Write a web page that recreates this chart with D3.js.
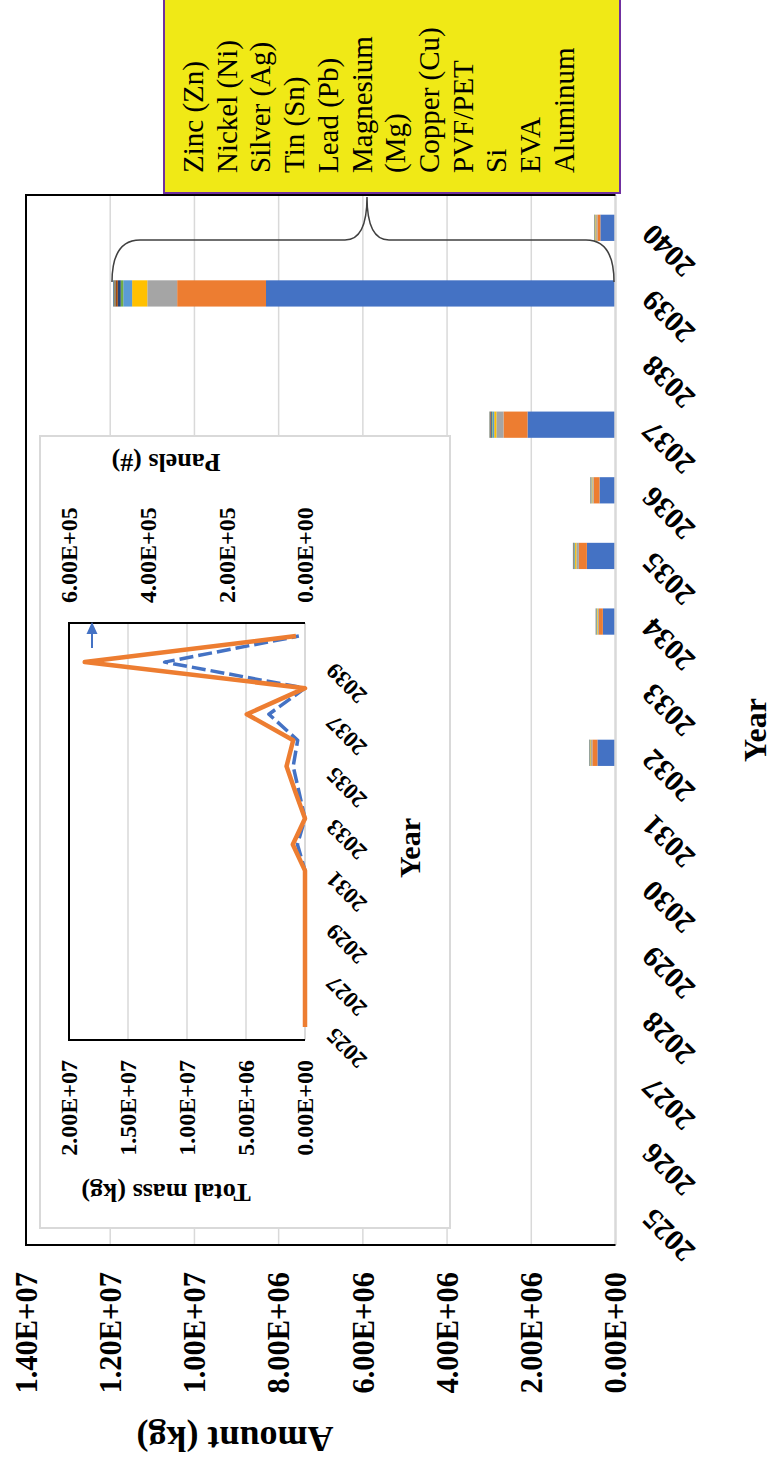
<!DOCTYPE html>
<html><head><meta charset="utf-8">
<script src="https://cdn.jsdelivr.net/npm/d3@7"></script>
<style>html,body{margin:0;padding:0;background:#fff;} svg{display:block;}</style>
</head><body>
<svg id="chart" width="774" height="1465"></svg>
<script>
// ---------- DATA ----------
const years = ["2025","2026","2027","2028","2029","2030","2031","2032","2033","2034","2035","2036","2037","2038","2039","2040"];
const seriesNames = ["Aluminum","EVA","Si","PVF/PET","Copper (Cu)","Magnesium (Mg)","Lead (Pb)","Tin (Sn)","Silver (Ag)","Nickel (Ni)","Zinc (Zn)"];
const seriesColors = ["#4472C4","#ED7D31","#A5A5A5","#FFC000","#5B9BD5","#70AD47","#264478","#9E480E","#636363","#997300","#255E91"];
// amounts in kg, per year 2025..2040
const aluminum  = [0,0,0,0,0,0,0,430000,0,300000,680000,380000,2090000,0,8300000,360000];
const eva       = [0,0,0,0,0,0,0,120000,0,95000,190000,140000,570000,0,2110000,70000];
const si        = [0,0,0,0,0,0,0,30000,0,30000,60000,30000,170000,0,710000,30000];
const pvfPet    = [0,0,0,0,0,0,0,20000,0,15000,30000,20000,50000,0,360000,20000];
const copper    = [0,0,0,0,0,0,0,12000,0,10000,20000,15000,40000,0,210000,12000];
const magnesium = [0,0,0,0,0,0,0,5000,0,8000,10000,5000,20000,0,60000,5000];
const lead      = [0,0,0,0,0,0,0,4000,0,6000,8000,4000,20000,0,70000,4000];
const tin       = [0,0,0,0,0,0,0,3000,0,3000,5000,3000,15000,0,50000,3000];
const silver    = [0,0,0,0,0,0,0,2000,0,2000,4000,2000,10000,0,30000,2000];
const nickel    = [0,0,0,0,0,0,0,1000,0,1000,2000,1000,5000,0,15000,1000];
const zinc      = [0,0,0,0,0,0,0,1000,0,1000,2000,1000,5000,0,15000,1000];
const seriesValues = [aluminum, eva, si, pvfPet, copper, magnesium, lead, tin, silver, nickel, zinc];

const amountTicks = [0,2e6,4e6,6e6,8e6,1e7,1.2e7,1.4e7];
const amountTickLabels = ["0.00E+00","2.00E+06","4.00E+06","6.00E+06","8.00E+06","1.00E+07","1.20E+07","1.40E+07"];

// inset
const insetTotalMass = [0,0,0,0,0,0,0,640000,0,500000,1000000,620000,3060000,0,11900000,520000];
const insetPanels    = [0,0,0,0,0,0,0,31000,0,24000,47000,30000,148000,0,560000,23000];
const massTicks = [0,5e6,1e7,1.5e7,2e7];
const massTickLabels = ["0.00E+00","5.00E+06","1.00E+07","1.50E+07","2.00E+07"];
const panelTicks = [0,2e5,4e5,6e5];
const panelTickLabels = ["0.00E+00","2.00E+05","4.00E+05","6.00E+05"];
const insetYearLabels = ["2025","2027","2029","2031","2033","2035","2037","2039"];

// ---------- DRAW ----------
const FONT = "'Liberation Serif','Times New Roman',serif";
const svg = d3.select("#chart");
svg.append("rect").attr("width",774).attr("height",1465).attr("fill","#fff");
// chart drawn in unrotated frame (1465 wide x 774 tall), then rotated
const g = svg.append("g").attr("transform","translate(0,1465) rotate(-90)");

const x = d3.scaleBand().domain(years).range([220,1270]).paddingInner(0.6).paddingOuter(0.3);
const y = d3.scaleLinear().domain([0,1.4e7]).range([615.5,26]);

// gridlines
g.append("g").selectAll("line").data(amountTicks.slice(1)).join("line")
  .attr("x1",220).attr("x2",1270).attr("y1",d=>y(d)).attr("y2",d=>y(d))
  .attr("stroke","#D9D9D9").attr("stroke-width",1.5);

// stacked bars
const rows = years.map((yr,i)=>{ const r={year:yr}; seriesNames.forEach((s,k)=>r[s]=seriesValues[k][i]); return r; });
const stacked = d3.stack().keys(seriesNames)(rows);
g.append("g").selectAll("g").data(stacked).join("g")
  .attr("fill",(d,i)=>seriesColors[i])
  .selectAll("rect").data(d=>d).join("rect")
  .attr("x",d=>x(d.data.year)).attr("width",x.bandwidth())
  .attr("y",d=>y(d[1])).attr("height",d=>Math.max(0,y(d[0])-y(d[1])));

// axis line (value 0) and plot border
g.append("line").attr("x1",220).attr("x2",1270).attr("y1",y(0)).attr("y2",y(0))
  .attr("stroke","#D9D9D9").attr("stroke-width",2.5);
g.append("path").attr("d",`M220,${y(0)}L220,26L1270,26L1270,${y(0)}`)
  .attr("fill","none").attr("stroke","#000").attr("stroke-width",2);

// value tick labels
g.append("g").selectAll("text").data(amountTicks).join("text")
  .attr("x",193).attr("y",d=>y(d)).attr("dy","0.35em").attr("text-anchor","end")
  .attr("font-family",FONT).attr("font-weight","bold").attr("font-size",30.5)
  .text((d,i)=>amountTickLabels[i]);

// year tick labels
g.append("g").selectAll("text").data(years).join("text")
  .attr("transform",d=>`translate(${x(d)+x.bandwidth()/2-2},647) rotate(-45)`)
  .attr("dy","0.35em").attr("text-anchor","end")
  .attr("font-family",FONT).attr("font-weight","bold").attr("font-size",30)
  .text(d=>d);

// axis titles
g.append("text").attr("transform","translate(38,235) rotate(-90)").attr("text-anchor","middle")
  .attr("font-family",FONT).attr("font-weight","bold").attr("font-size",36).text("Amount (kg)");
g.append("text").attr("x",735).attr("y",766).attr("text-anchor","middle")
  .attr("font-family",FONT).attr("font-weight","bold").attr("font-size",32).text("Year");

// legend box
g.append("rect").attr("x",1272).attr("y",164).attr("width",196).attr("height",456)
  .attr("fill","#F0E916").attr("stroke","#7030A0").attr("stroke-width",2);
const legendNames = seriesNames.slice().reverse();
let line = 0;
const legG = g.append("g").attr("font-family",FONT).attr("font-size",29).attr("fill","#000");
legendNames.forEach(name=>{
  const words = name.split(" ");
  let cur = words[0];
  const lines = [];
  for (let k=1;k<words.length;k++){
    const t = legG.append("text").text(cur+" "+words[k]);
    const w = t.node().getComputedTextLength(); t.remove();
    if (w>165){ lines.push(cur); cur = words[k]; } else cur = cur+" "+words[k];
  }
  lines.push(cur);
  lines.forEach(l=>{
    legG.append("text").attr("x",1292).attr("y",203+line*33.7).text(l);
    line++;
  });
});

// brace from 2039 bar to legend
g.append("path")
  .attr("d","M1183,112 Q1225,112 1225,140 L1225,345 Q1225,367 1268,367 Q1225,367 1225,389 L1225,586 Q1225,614 1183,614")
  .attr("fill","none").attr("stroke","#404040").attr("stroke-width",1.5);

// ---------- INSET ----------
g.append("rect").attr("x",237).attr("y",40).attr("width",792).attr("height",410)
  .attr("fill","#fff").attr("stroke","#D9D9D9").attr("stroke-width",2);
const ix = d3.scaleBand().domain(years).range([425,842]);
const iy = d3.scaleLinear().domain([0,2e7]).range([305,69]);
const iy2 = d3.scaleLinear().domain([0,6e5]).range([305,69]);
g.append("g").selectAll("line").data(massTicks.slice(1)).join("line")
  .attr("x1",425).attr("x2",842).attr("y1",d=>iy(d)).attr("y2",d=>iy(d))
  .attr("stroke","#D9D9D9").attr("stroke-width",1.5);
g.append("line").attr("x1",425).attr("x2",842).attr("y1",iy(0)).attr("y2",iy(0))
  .attr("stroke","#D9D9D9").attr("stroke-width",2);
g.append("path").attr("d",`M425,${iy(0)}L425,69L842,69L842,${iy(0)}`)
  .attr("fill","none").attr("stroke","#000").attr("stroke-width",2);

const cx = d=>ix(d)+ix.bandwidth()/2;
g.append("path").datum(years.map((yr,i)=>[cx(yr),iy(insetTotalMass[i])]))
  .attr("d",d3.line()).attr("fill","none").attr("stroke","#4472C4")
  .attr("stroke-width",3.5).attr("stroke-dasharray","14,5").attr("stroke-linejoin","round");
g.append("path").datum(years.map((yr,i)=>[cx(yr),iy2(insetPanels[i])]))
  .attr("d",d3.line()).attr("fill","none").attr("stroke","#ED7D31")
  .attr("stroke-width",4.5).attr("stroke-linejoin","round");

// small arrow
g.append("line").attr("x1",817).attr("x2",833).attr("y1",92).attr("y2",92)
  .attr("stroke","#4472C4").attr("stroke-width",2);
g.append("path").attr("d","M843,92L831,86.5L831,97.5Z").attr("fill","#4472C4");

// inset labels
g.append("g").selectAll("text").data(massTicks).join("text")
  .attr("x",405).attr("y",d=>iy(d)).attr("dy","0.35em").attr("text-anchor","end")
  .attr("font-family",FONT).attr("font-weight","bold").attr("font-size",24)
  .text((d,i)=>massTickLabels[i]);
g.append("g").selectAll("text").data(panelTicks).join("text")
  .attr("x",862).attr("y",d=>iy2(d)).attr("dy","0.35em").attr("text-anchor","start")
  .attr("font-family",FONT).attr("font-weight","bold").attr("font-size",24)
  .text((d,i)=>panelTickLabels[i]);
g.append("g").selectAll("text").data(insetYearLabels).join("text")
  .attr("transform",d=>`translate(${cx(d)-5},330) rotate(-45)`)
  .attr("dy","0.35em").attr("text-anchor","end")
  .attr("font-family",FONT).attr("font-weight","bold").attr("font-size",23)
  .text(d=>d);
g.append("text").attr("transform","translate(281,166) rotate(-90)").attr("text-anchor","middle")
  .attr("font-family",FONT).attr("font-weight","bold").attr("font-size",26).text("Total mass (kg)");
g.append("text").attr("transform","translate(1011,166) rotate(-90)").attr("text-anchor","middle")
  .attr("font-family",FONT).attr("font-weight","bold").attr("font-size",26).text("Panels (#)");
g.append("text").attr("x",617).attr("y",420).attr("text-anchor","middle")
  .attr("font-family",FONT).attr("font-weight","bold").attr("font-size",30).text("Year");
</script>
</body></html>
